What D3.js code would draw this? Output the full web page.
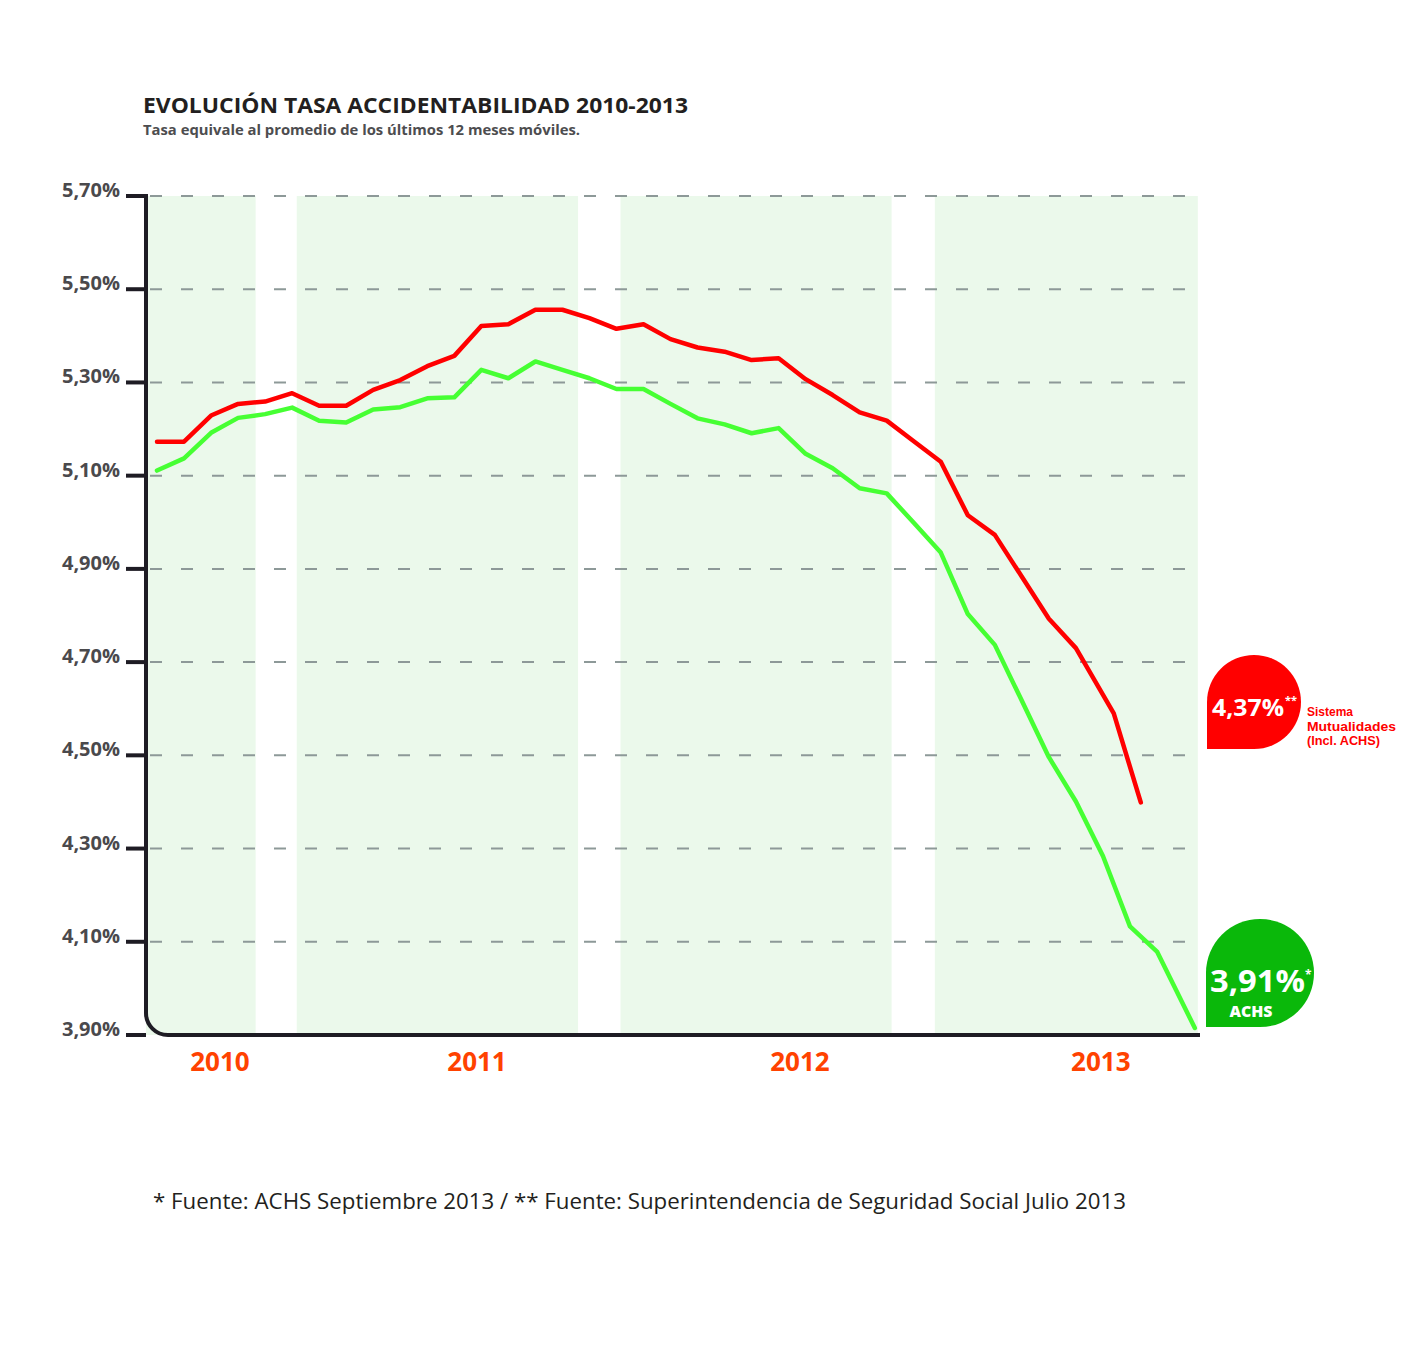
<!DOCTYPE html>
<html>
<head>
<meta charset="utf-8">
<script src="https://cdn.jsdelivr.net/npm/d3@7"></script>
<style>
  html, body { margin: 0; padding: 0; background: #ffffff; }
  svg { display: block; }
</style>
</head>
<body>
<script>
// ---------------- DATA ----------------
// month index (0 = first point) of each observation
const redMonths = [0,1,2,3,4,5,6,7,8,9,10,11,12,13,14,15,16,17,18,19,20,21,22,23,24,25,26,27,28,29,30,31,32,33,34,35.4,36.4];
const redValues = [5.173,5.173,5.229,5.254,5.259,5.277,5.250,5.250,5.284,5.305,5.335,5.357,5.421,5.425,5.456,5.456,5.438,5.415,5.425,5.393,5.375,5.366,5.348,5.352,5.307,5.273,5.236,5.218,5.174,5.130,5.015,4.973,4.883,4.793,4.730,4.590,4.399];

const greenMonths = [0,1,2,3,4,5,6,7,8,9,10,11,12,13,14,15,16,17,18,19,20,21,22,23,24,25,26,27,28,29,30,31,32,33,34,35,36,37,38.4];
const greenValues = [5.111,5.137,5.192,5.224,5.232,5.246,5.218,5.214,5.242,5.247,5.266,5.268,5.327,5.309,5.345,5.327,5.309,5.286,5.286,5.254,5.223,5.210,5.191,5.202,5.147,5.116,5.073,5.062,4.999,4.935,4.803,4.737,4.617,4.496,4.401,4.284,4.133,4.079,3.915];

// year periods (in month-index units) shown as shaded bands
const yearBands = [[-0.41,3.65],[5.17,15.58],[17.15,27.18],[28.78,38.51]];
const yearLabels = ["2010","2011","2012","2013"];
const yearLabelAt = [2.33,11.84,23.79,34.92];

const yTicks = [3.9,4.1,4.3,4.5,4.7,4.9,5.1,5.3,5.5,5.7];
const yTickLabels = ["3,90%","4,10%","4,30%","4,50%","4,70%","4,90%","5,10%","5,30%","5,50%","5,70%"];

const titleText = "EVOLUCIÓN TASA ACCIDENTABILIDAD 2010-2013";
const subtitleText = "Tasa equivale al promedio de los últimos 12 meses móviles.";
const footerText = "* Fuente: ACHS Septiembre 2013 / ** Fuente: Superintendencia de Seguridad Social Julio 2013";
const redBadge = {value: "4,37%", mark: "**", lines: ["Sistema","Mutualidades","(Incl. ACHS)"]};
const greenBadge = {value: "3,91%", mark: "*", name: "ACHS"};

// ---------------- CHART ----------------
const W = 1412, H = 1350;
const FONT = "'Open Sans', 'Noto Sans', sans-serif";
const svg = d3.select("body").append("svg").attr("width", W).attr("height", H)
  .style("font-family", FONT);

const x = d3.scaleLinear().domain([0, 37]).range([157, 1157]);
const y = d3.scaleLinear().domain([3.9, 5.7]).range([1035, 196]);

const axisX = 146, plotRight = 1198;

// bands
svg.append("g").selectAll("rect").data(yearBands).join("rect")
  .attr("x", d => Math.max(axisX, x(d[0])))
  .attr("width", d => x(d[1]) - Math.max(axisX, x(d[0])))
  .attr("y", y(5.7))
  .attr("height", y(3.9) - y(5.7))
  .attr("fill", "#ebf9eb");

// gridlines (dashed)
svg.append("g").selectAll("line").data(yTicks.slice(1)).join("line")
  .attr("x1", axisX + 4).attr("x2", plotRight)
  .attr("y1", d => y(d)).attr("y2", d => y(d))
  .attr("stroke", "#8d9998").attr("stroke-width", 2)
  .attr("stroke-dasharray", "12,19");

// y tick labels
svg.append("g").selectAll("text").data(yTicks).join("text")
  .attr("x", 120).attr("y", d => y(d) + 1)
  .attr("text-anchor", "end")
  .attr("font-size", 20).attr("font-weight", 700)
  .attr("fill", "#4a494c")
  .text((d, i) => yTickLabels[i]);

// tick marks
svg.append("g").selectAll("line").data(yTicks).join("line")
  .attr("x1", 126).attr("x2", axisX)
  .attr("y1", d => y(d)).attr("y2", d => y(d))
  .attr("stroke", "#1e1c24").attr("stroke-width", 4);

// axis path with rounded corner
const r = 22;
const ap = d3.path();
ap.moveTo(axisX, y(5.7) - 2);
ap.lineTo(axisX, y(3.9) - r);
ap.arcTo(axisX, y(3.9), axisX + r, y(3.9), r);
ap.lineTo(plotRight + 2, y(3.9));
svg.append("path").attr("d", ap.toString())
  .attr("fill", "none").attr("stroke", "#1e1c24").attr("stroke-width", 4);

// lines
const line = d3.line().x(d => x(d[0])).y(d => y(d[1]));
svg.append("path").datum(greenMonths.map((m, i) => [m, greenValues[i]]))
  .attr("d", line).attr("fill", "none")
  .attr("stroke", "#46ff33").attr("stroke-width", 4.5)
  .attr("stroke-linejoin", "round").attr("stroke-linecap", "round");
svg.append("path").datum(redMonths.map((m, i) => [m, redValues[i]]))
  .attr("d", line).attr("fill", "none")
  .attr("stroke", "#ff0000").attr("stroke-width", 4.5)
  .attr("stroke-linejoin", "round").attr("stroke-linecap", "round");

// year labels
svg.append("g").selectAll("text").data(yearLabels).join("text")
  .attr("x", (d, i) => x(yearLabelAt[i])).attr("y", 1071)
  .attr("text-anchor", "middle")
  .attr("font-size", 26).attr("font-weight", 700)
  .attr("fill", "#ff4200")
  .text(d => d);

// title and subtitle
svg.append("text").attr("x", 143).attr("y", 113)
  .attr("font-size", 22).attr("font-weight", 700).attr("fill", "#231f20")
  .attr("textLength", 545).attr("lengthAdjust", "spacingAndGlyphs")
  .text(titleText);
svg.append("text").attr("x", 143).attr("y", 135)
  .attr("font-size", 14).attr("font-weight", 700).attr("fill", "#4d4d4f")
  .attr("textLength", 437).attr("lengthAdjust", "spacingAndGlyphs")
  .text(subtitleText);

// footer
svg.append("text").attr("x", 153).attr("y", 1209)
  .attr("font-size", 22).attr("font-weight", 400).attr("fill", "#231f20")
  .attr("textLength", 973).attr("lengthAdjust", "spacingAndGlyphs")
  .text(footerText);

// badges
function badge(cx, cy, rad) {
  const p = d3.path();
  p.moveTo(cx - rad, cy);
  p.arc(cx, cy, rad, Math.PI, 2.5 * Math.PI);
  p.lineTo(cx - rad, cy + rad);
  p.closePath();
  return p.toString();
}
// red badge
svg.append("path").attr("d", badge(1254, 702, 47)).attr("fill", "#ff0000");
svg.append("text").attr("x", 1212).attr("y", 716)
  .attr("font-size", 24).attr("font-weight", 700).attr("fill", "#ffffff")
  .attr("textLength", 72).attr("lengthAdjust", "spacingAndGlyphs")
  .text(redBadge.value);
svg.append("text").attr("x", 1285).attr("y", 704)
  .attr("font-size", 11).attr("font-weight", 700).attr("fill", "#ffffff")
  .text(redBadge.mark);
const redLineWidths = [46, 89, 73];
svg.append("g").selectAll("text").data(redBadge.lines).join("text")
  .attr("x", 1307).attr("y", (d, i) => 716 + i * 14.5)
  .attr("font-family", "'Liberation Sans', Arial, sans-serif")
  .attr("font-size", 12.4).attr("font-weight", 700).attr("fill", "#ff0000")
  .attr("textLength", (d, i) => redLineWidths[i]).attr("lengthAdjust", "spacingAndGlyphs")
  .text(d => d);

// green badge
svg.append("path").attr("d", badge(1260, 973, 54)).attr("fill", "#0ab80a");
svg.append("text").attr("x", 1210).attr("y", 992)
  .attr("font-size", 31).attr("font-weight", 700).attr("fill", "#ffffff")
  .attr("textLength", 95).attr("lengthAdjust", "spacingAndGlyphs")
  .text(greenBadge.value);
svg.append("text").attr("x", 1305).attr("y", 979)
  .attr("font-size", 12).attr("font-weight", 700).attr("fill", "#ffffff")
  .text(greenBadge.mark);
svg.append("text").attr("x", 1251).attr("y", 1017)
  .attr("text-anchor", "middle")
  .attr("font-size", 15).attr("font-weight", 800).attr("fill", "#ffffff")
  .attr("textLength", 43).attr("lengthAdjust", "spacingAndGlyphs")
  .text(greenBadge.name);
</script>
</body>
</html>
